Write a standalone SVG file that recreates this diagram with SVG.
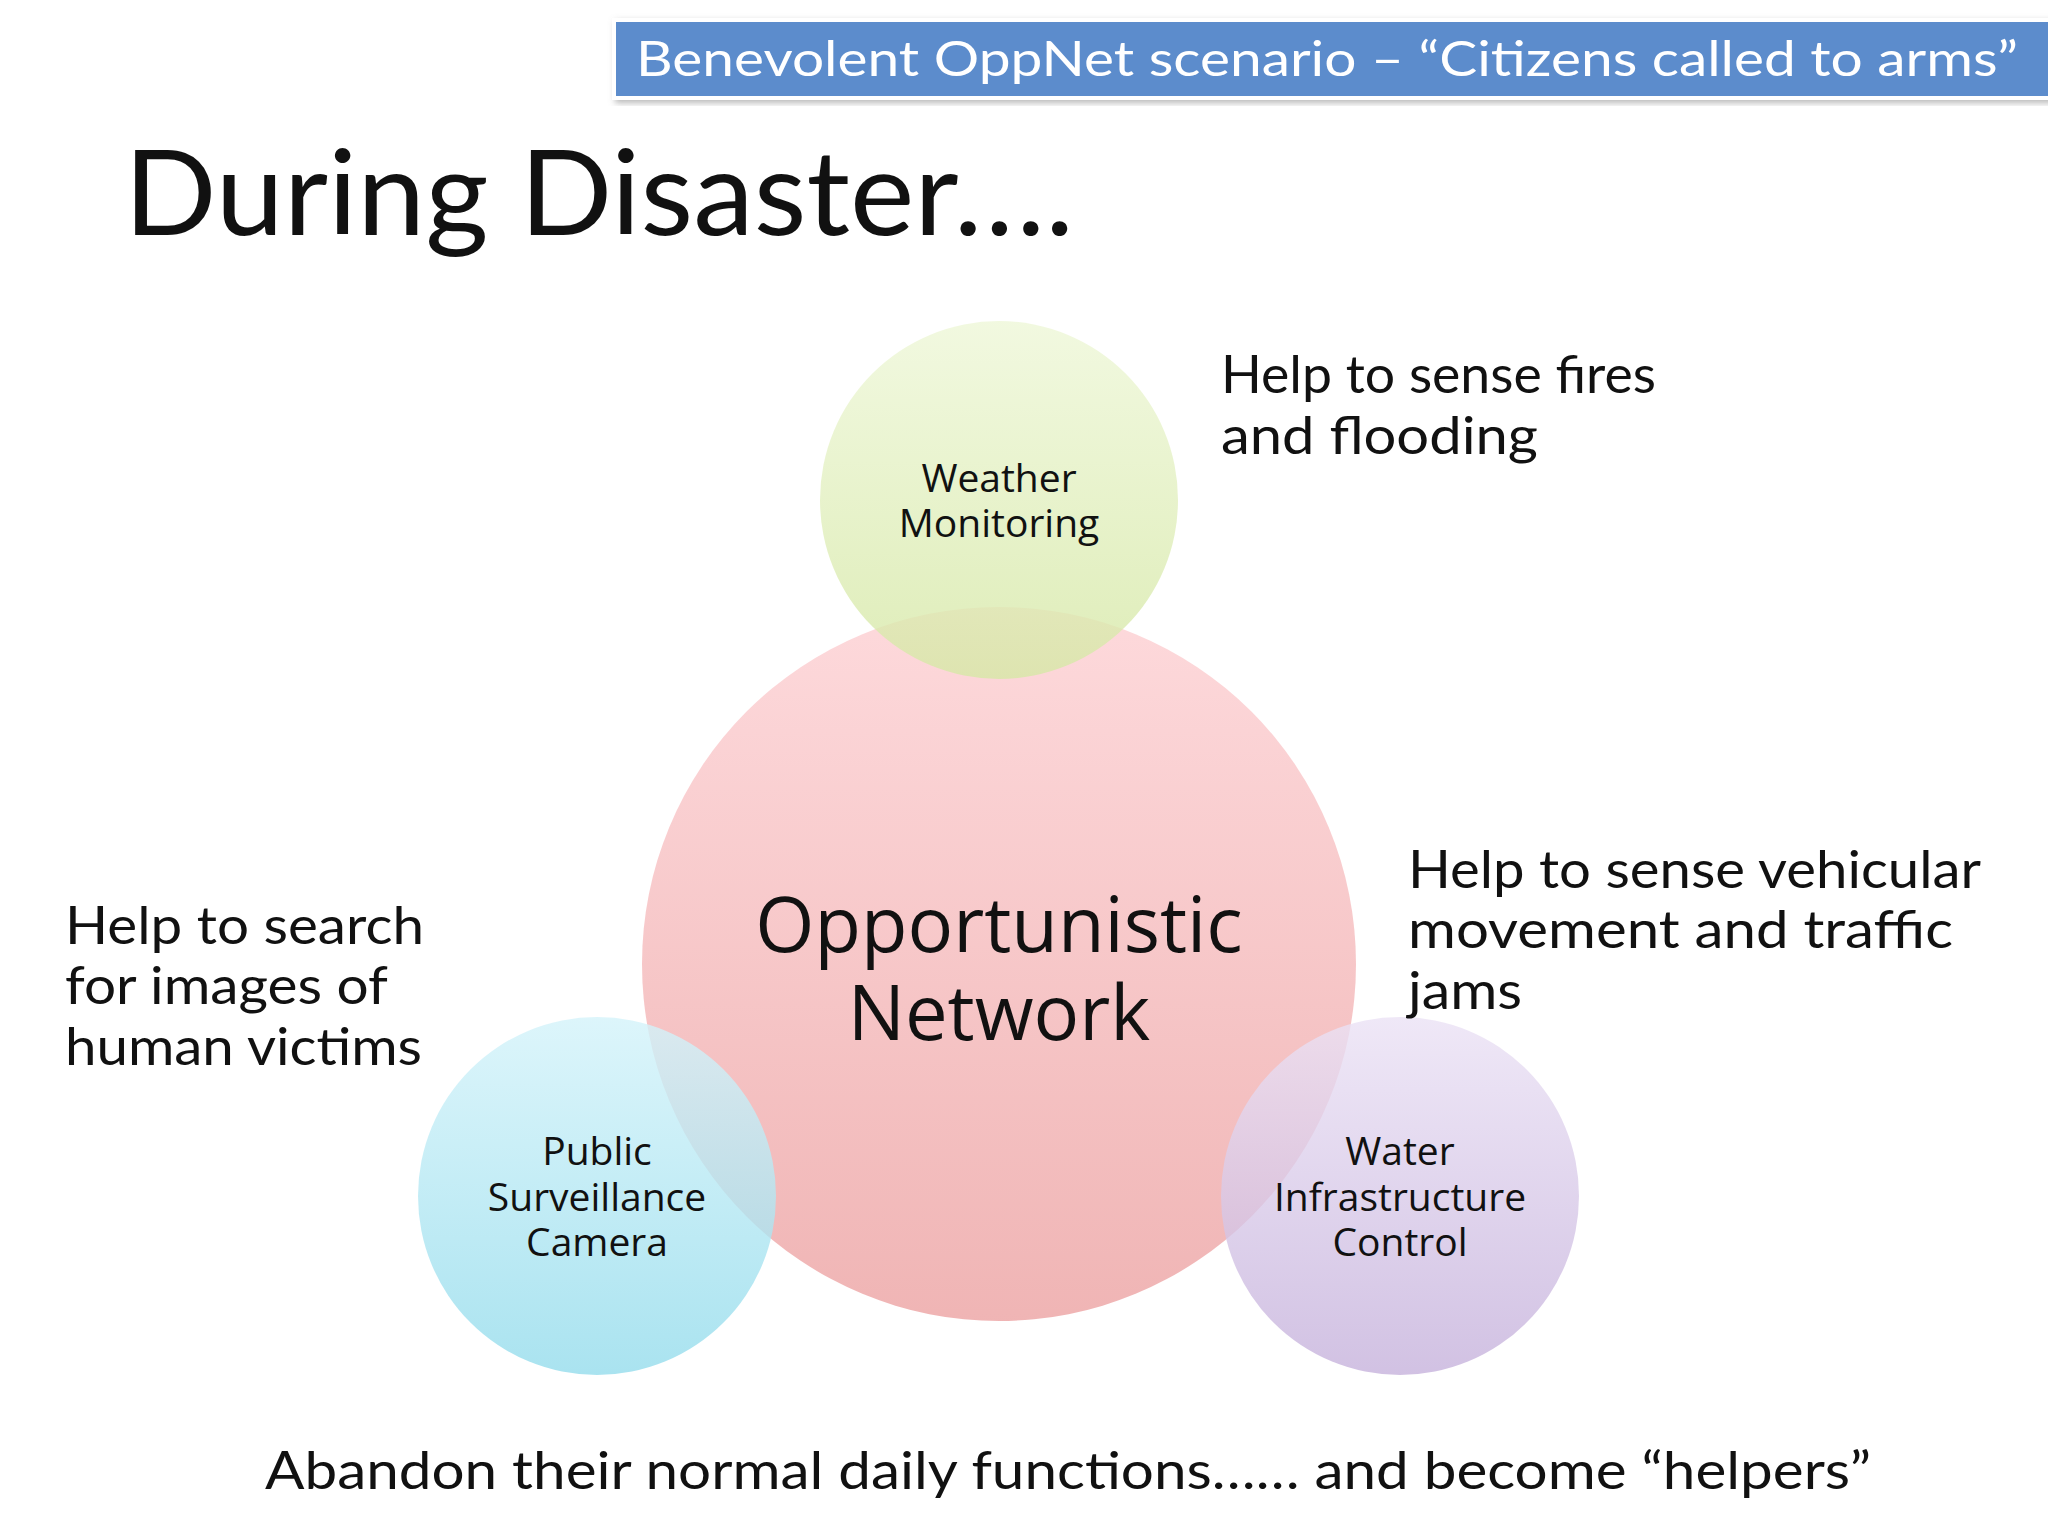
<svg xmlns="http://www.w3.org/2000/svg" width="2048" height="1536" viewBox="0 0 2048 1536">
<defs>
<linearGradient id="gw" x1="0" y1="0" x2="0" y2="1"><stop offset="0" stop-color="#eef7d8"/><stop offset="1" stop-color="#d6e8a6"/></linearGradient>
<linearGradient id="gn" x1="0" y1="0" x2="0" y2="1"><stop offset="0" stop-color="#fdd0d3"/><stop offset="1" stop-color="#eca2a2"/></linearGradient>
<linearGradient id="gc" x1="0" y1="0" x2="0" y2="1"><stop offset="0" stop-color="#d4f3fa"/><stop offset="1" stop-color="#94dcec"/></linearGradient>
<linearGradient id="gp" x1="0" y1="0" x2="0" y2="1"><stop offset="0" stop-color="#ebe2f5"/><stop offset="1" stop-color="#c6b2dc"/></linearGradient>
<filter id="sh"><feDropShadow dx="3" dy="3" stdDeviation="3" flood-color="#888" flood-opacity="0.6"/></filter>
</defs>
<style>
.c{opacity:0.8}
.lbl{font-family:"Open Sans","Liberation Sans",sans-serif;font-size:39px;fill:#111;text-anchor:middle}
.big{font-size:76px}
.t{font-family:"Lato","Liberation Sans",sans-serif;font-size:52px;fill:#111}
</style>
<rect width="2048" height="1536" fill="#fff"/>
<rect x="614" y="20" width="1440" height="78" fill="#5b8ccc" stroke="#fff" stroke-width="4" filter="url(#sh)"/>
<text x="636" y="76" font-family="Lato,'Liberation Sans',sans-serif" font-size="48" fill="#fff" textLength="1382" lengthAdjust="spacingAndGlyphs">Benevolent OppNet scenario – “Citizens called to arms”</text>
<text x="124" y="235" font-family="Lato,'Liberation Sans',sans-serif" font-size="118" fill="#111" textLength="950" lengthAdjust="spacingAndGlyphs">During Disaster….</text>
<g id="network"><circle class="c" cx="999" cy="964" r="357" fill="url(#gn)"/></g>
<g id="weather"><circle class="c" cx="999" cy="500" r="179" fill="url(#gw)"/>
<text class="lbl" x="999" y="492">Weather</text><text class="lbl" x="999" y="537">Monitoring</text></g>
<g id="camera"><circle class="c" cx="597" cy="1196" r="179" fill="url(#gc)"/>
<text class="lbl" x="597" y="1165">Public</text><text class="lbl" x="597" y="1211">Surveillance</text><text class="lbl" x="597" y="1256">Camera</text></g>
<g id="water"><circle class="c" cx="1400" cy="1196" r="179" fill="url(#gp)"/>
<text class="lbl" x="1400" y="1165">Water</text><text class="lbl" x="1400" y="1211">Infrastructure</text><text class="lbl" x="1400" y="1256">Control</text></g>
<g id="netlabel"><text class="lbl big" x="999" y="952">Opportunistic</text><text class="lbl big" x="999" y="1040">Network</text></g>
<g id="connectors"></g>
<text class="t" x="1221" y="393" textLength="435" lengthAdjust="spacingAndGlyphs">Help to sense fires</text>
<text class="t" x="1221" y="454" textLength="317" lengthAdjust="spacingAndGlyphs">and flooding</text>
<text class="t" x="1408" y="888" textLength="573" lengthAdjust="spacingAndGlyphs">Help to sense vehicular</text>
<text class="t" x="1408" y="948" textLength="545" lengthAdjust="spacingAndGlyphs">movement and traffic</text>
<text class="t" x="1408" y="1009" textLength="114" lengthAdjust="spacingAndGlyphs">jams</text>
<text class="t" x="65" y="944" textLength="359" lengthAdjust="spacingAndGlyphs">Help to search</text>
<text class="t" x="65" y="1004" textLength="323" lengthAdjust="spacingAndGlyphs">for images of</text>
<text class="t" x="65" y="1065" textLength="357" lengthAdjust="spacingAndGlyphs">human victims</text>
<text class="t" x="265" y="1489" textLength="1606" lengthAdjust="spacingAndGlyphs">Abandon their normal daily functions…… and become “helpers”</text>
</svg>
